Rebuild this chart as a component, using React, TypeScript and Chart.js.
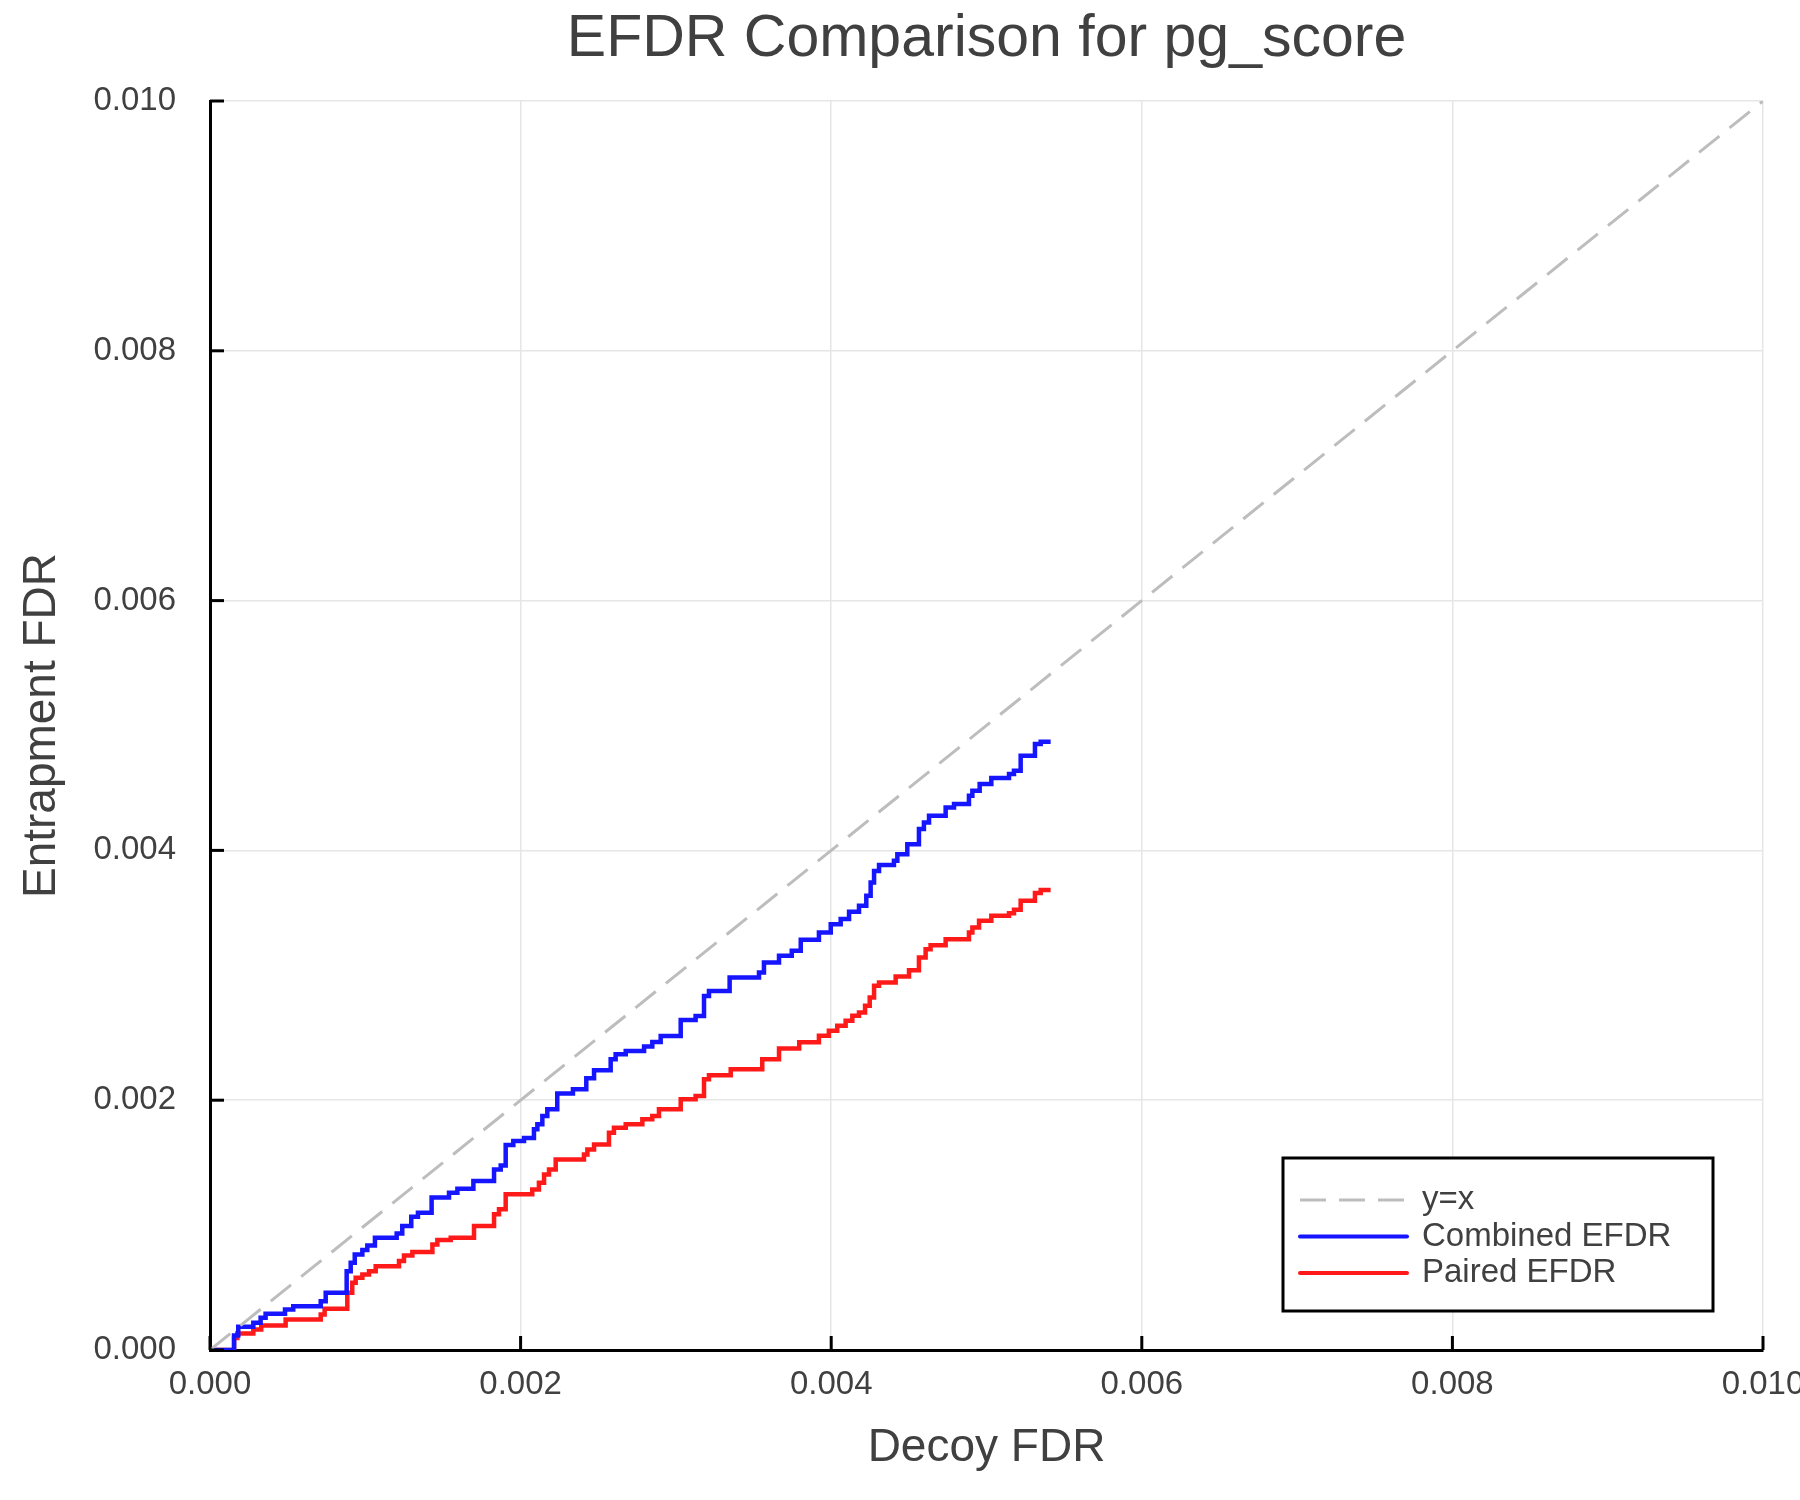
import React, { useEffect, useRef } from 'react';
import { Chart, registerables, Plugin } from 'chart.js';

Chart.register(...registerables);

const titleText = 'EFDR Comparison for pg_score';
const xAxisLabel = 'Decoy FDR';
const yAxisLabel = 'Entrapment FDR';
const seriesLabels = ['y=x', 'Combined EFDR', 'Paired EFDR'];
const axisMin = 0;
const axisMax = 0.01;
const tickStep = 0.002;

const identityX = [0, 0.01];
const identityY = [0, 0.01];

const combinedX = [
  0, 0.000155, 0.000182, 0.000279, 0.000326, 0.000358, 0.000483, 0.000536, 0.000713, 0.000745,
  0.00088, 0.000906, 0.000932, 0.000981, 0.001013, 0.001062, 0.001202, 0.001238, 0.001296, 0.001339,
  0.001427, 0.001539, 0.001593, 0.001696, 0.001829, 0.001872, 0.001904, 0.001953, 0.002022, 0.002086,
  0.002108, 0.00214, 0.002172, 0.002236, 0.002337, 0.002423, 0.002473, 0.00258, 0.002612, 0.002677,
  0.002795, 0.002848, 0.002902, 0.003031, 0.003127, 0.003181, 0.003213, 0.003346, 0.003535, 0.003567,
  0.003664, 0.003746, 0.003804, 0.003921, 0.003997, 0.004061, 0.004115, 0.004179, 0.004226, 0.004254,
  0.004276, 0.004308, 0.004404, 0.004426, 0.00449, 0.004565, 0.004597, 0.00463, 0.004737, 0.004791,
  0.004887, 0.004909, 0.004956, 0.005031, 0.005145, 0.005177, 0.00522, 0.005312, 0.005349, 0.005413,
];
const combinedY = [
  0, 0.000116, 0.000186, 0.000218, 0.000258, 0.00029, 0.000325, 0.000351, 0.000391, 0.000458,
  0.000631, 0.000699, 0.000765, 0.0008, 0.000837, 0.000899, 0.000933, 0.000992, 0.001067, 0.001099,
  0.00122, 0.00126, 0.001292, 0.001353, 0.001446, 0.001478, 0.001641, 0.001673, 0.001697, 0.001767,
  0.001807, 0.001873, 0.001927, 0.002053, 0.002087, 0.002175, 0.00224, 0.002328, 0.002368, 0.002394,
  0.002429, 0.002466, 0.002514, 0.002643, 0.002675, 0.002835, 0.002875, 0.002982, 0.003022, 0.003102,
  0.003156, 0.003196, 0.003284, 0.003343, 0.003409, 0.00345, 0.003508, 0.003556, 0.003636, 0.003743,
  0.003836, 0.003884, 0.003917, 0.00397, 0.00405, 0.004171, 0.004224, 0.004277, 0.004344, 0.004371,
  0.004438, 0.004478, 0.004531, 0.004579, 0.004611, 0.004638, 0.004758, 0.004852, 0.00487, 0.00487,
];

const pairedX = [
  0, 0.000079, 0.000155, 0.000176, 0.000279, 0.00033, 0.000487, 0.000713, 0.000738, 0.000884,
  0.000916, 0.000938, 0.000981, 0.001024, 0.001067, 0.001217, 0.001249, 0.001303, 0.001432, 0.001464,
  0.00155, 0.0017, 0.001829, 0.001861, 0.001904, 0.002075, 0.002118, 0.002151, 0.002183, 0.002226,
  0.002408, 0.00243, 0.002473, 0.002569, 0.002601, 0.002677, 0.002784, 0.002848, 0.002891, 0.003031,
  0.003127, 0.003181, 0.003213, 0.003353, 0.003556, 0.003664, 0.003794, 0.003921, 0.003985, 0.004039,
  0.004093, 0.004136, 0.004179, 0.004218, 0.004248, 0.004276, 0.004308, 0.004415, 0.004501, 0.004565,
  0.004608, 0.00464, 0.004737, 0.004887, 0.004909, 0.004952, 0.005031, 0.005145, 0.005177, 0.00522,
  0.005312, 0.005349, 0.005413,
];
const pairedY = [
  0, 0, 0.000097, 0.000132, 0.000164, 0.000196, 0.000244, 0.000284, 0.00033, 0.000458,
  0.000538, 0.000578, 0.000605, 0.000631, 0.000671, 0.000712, 0.000757, 0.000784, 0.000845, 0.00088,
  0.000899, 0.000992, 0.001086, 0.001126, 0.001246, 0.001286, 0.00134, 0.001406, 0.001446, 0.001526,
  0.001566, 0.001606, 0.001646, 0.00174, 0.00178, 0.001807, 0.001847, 0.001873, 0.001927, 0.002007,
  0.002034, 0.002167, 0.002199, 0.002247, 0.002328, 0.002413, 0.002463, 0.002516, 0.002556, 0.002596,
  0.002636, 0.002676, 0.002703, 0.002756, 0.002823, 0.002916, 0.002943, 0.002991, 0.003041, 0.003143,
  0.003209, 0.003241, 0.003289, 0.003343, 0.003383, 0.003436, 0.003476, 0.003497, 0.003524, 0.003596,
  0.003658, 0.003682, 0.003682,
];

const FONT = '"Liberation Sans", Arial, sans-serif';
const TEXT = '#404040';

const toPoints = (xs: number[], ys: number[]) => xs.map((x, i) => ({ x, y: ys[i] }));

// inward ticks, title and the framed legend
const decorPlugin: Plugin<'line'> = {
  id: 'decor',
  afterDatasetsDraw(chart) {
    const { ctx, chartArea, scales } = chart;
    ctx.save();
    ctx.strokeStyle = '#000';
    ctx.lineWidth = 3;
    scales.x.ticks.forEach((t) => {
      const px = scales.x.getPixelForValue(t.value);
      ctx.beginPath();
      ctx.moveTo(px, chartArea.bottom);
      ctx.lineTo(px, chartArea.bottom - 14);
      ctx.stroke();
    });
    scales.y.ticks.forEach((t) => {
      const py = scales.y.getPixelForValue(t.value);
      ctx.beginPath();
      ctx.moveTo(chartArea.left, py);
      ctx.lineTo(chartArea.left + 14, py);
      ctx.stroke();
    });
    ctx.restore();
  },
  afterDraw(chart) {
    const { ctx, chartArea } = chart;
    ctx.save();
    ctx.fillStyle = TEXT;
    ctx.font = `59px ${FONT}`;
    ctx.textAlign = 'center';
    ctx.textBaseline = 'middle';
    ctx.fillText(titleText, (chartArea.left + chartArea.right) / 2, 40);

    const w = 430;
    const h = 153;
    const x0 = chartArea.right - 480;
    const y0 = chartArea.bottom - 39 - h;
    ctx.fillStyle = '#fff';
    ctx.fillRect(x0, y0, w, h);
    ctx.strokeStyle = '#000';
    ctx.lineWidth = 3;
    ctx.strokeRect(x0, y0, w, h);

    chart.data.datasets.forEach((ds: any, i: number) => {
      const y = y0 + 42 + i * 36.5;
      ctx.beginPath();
      ctx.strokeStyle = ds.borderColor;
      ctx.lineWidth = ds.borderDash ? ds.borderWidth : 4;
      ctx.lineCap = ds.borderDash ? 'butt' : 'round';
      ctx.setLineDash(ds.borderDash || []);
      ctx.moveTo(x0 + 17, y);
      ctx.lineTo(x0 + 124, y);
      ctx.stroke();
      ctx.setLineDash([]);
      ctx.fillStyle = TEXT;
      ctx.font = `33px ${FONT}`;
      ctx.textAlign = 'left';
      ctx.textBaseline = 'middle';
      ctx.fillText(ds.label, x0 + 139, y);
    });
    ctx.restore();
  },
};

const App: React.FC = () => {
  const chartRef = useRef<HTMLCanvasElement | null>(null);
  const chartInstance = useRef<Chart | null>(null);

  useEffect(() => {
    document.body.style.margin = '0';
    if (!chartRef.current) return;
    const ctx = chartRef.current.getContext('2d');
    if (!ctx) return;

    chartInstance.current = new Chart(ctx, {
      type: 'line',
      data: {
        datasets: [
          {
            label: seriesLabels[0],
            data: toPoints(identityX, identityY),
            borderColor: '#bdbdbd',
            borderWidth: 3,
            borderDash: [26, 13],
            pointRadius: 0,
          },
          {
            label: seriesLabels[1],
            data: toPoints(combinedX, combinedY),
            borderColor: '#1515ff',
            borderWidth: 4.5,
            stepped: 'before',
            pointRadius: 0,
          },
          {
            label: seriesLabels[2],
            data: toPoints(pairedX, pairedY),
            borderColor: '#ff1a1a',
            borderWidth: 4.5,
            stepped: 'before',
            pointRadius: 0,
          },
        ],
      },
      options: {
        responsive: false,
        animation: false,
        devicePixelRatio: 1,
        layout: { padding: { left: 0, right: 37, top: 101, bottom: 0 } },
        plugins: {
          legend: { display: false },
          title: { display: false },
          tooltip: { enabled: false },
        },
        scales: {
          x: {
            type: 'linear',
            min: axisMin,
            max: axisMax,
            grid: { color: '#e6e6e6', lineWidth: 1.5, drawTicks: false },
            border: { display: true, color: '#000', width: 3 },
            ticks: {
              stepSize: tickStep,
              padding: 15,
              color: TEXT,
              font: { family: FONT, size: 33 },
              maxRotation: 0,
              autoSkip: false,
              callback: (v) => Number(v).toFixed(3),
            },
            title: {
              display: true,
              text: xAxisLabel,
              color: TEXT,
              font: { family: FONT, size: 46 },
              padding: { top: 0, bottom: 24.5 },
            },
            afterFit: (scale: any) => {
              scale.height = 150;
              scale.paddingLeft = 0;
              scale.paddingRight = 0;
            },
          },
          y: {
            type: 'linear',
            min: axisMin,
            max: axisMax,
            grid: { color: '#e6e6e6', lineWidth: 1.5, drawTicks: false },
            border: { display: true, color: '#000', width: 3 },
            ticks: {
              stepSize: tickStep,
              padding: 34,
              color: TEXT,
              font: { family: FONT, size: 33 },
              callback: (v) => Number(v).toFixed(3),
            },
            title: {
              display: true,
              text: yAxisLabel,
              color: TEXT,
              font: { family: FONT, size: 46 },
              padding: { top: 15, bottom: 0 },
            },
            afterFit: (scale: any) => {
              scale.width = 210;
              scale.paddingTop = 0;
              scale.paddingBottom = 0;
            },
          },
        },
      },
      plugins: [decorPlugin],
    });

    return () => {
      if (chartInstance.current) {
        chartInstance.current.destroy();
        chartInstance.current = null;
      }
    };
  }, []);

  return (
    <div style={{ width: 1800, height: 1500 }}>
      <canvas ref={chartRef} width={1800} height={1500} style={{ display: 'block' }} />
    </div>
  );
};

export default App;
